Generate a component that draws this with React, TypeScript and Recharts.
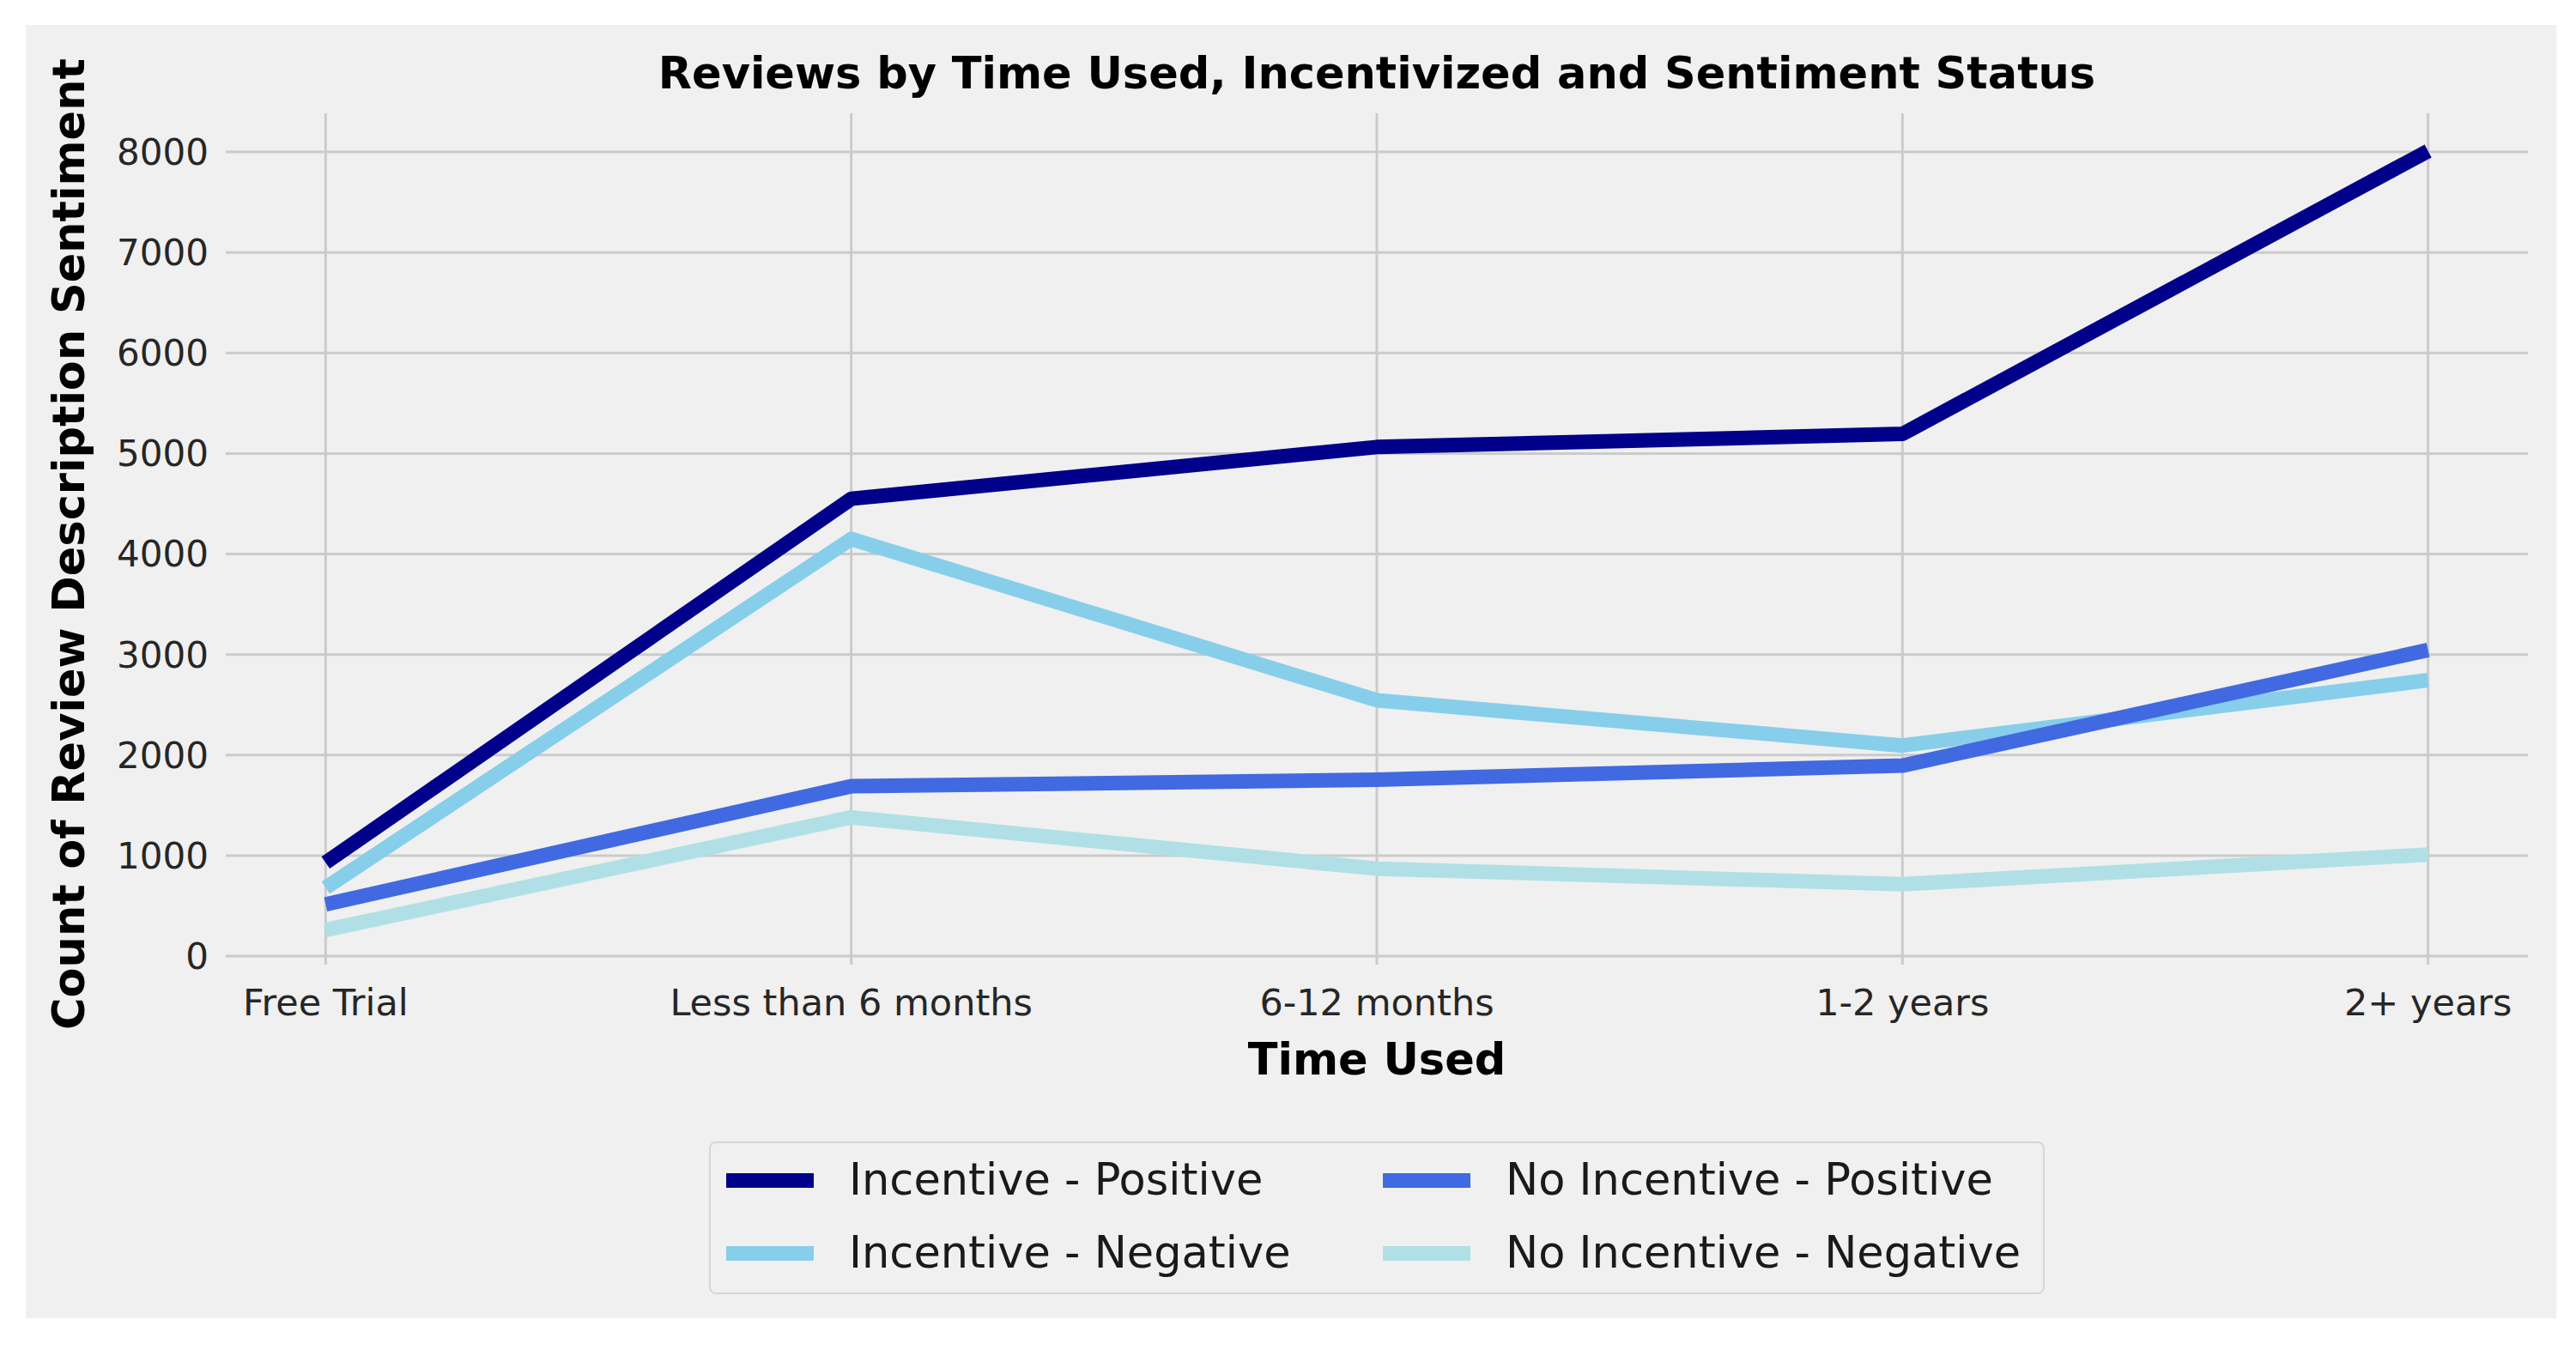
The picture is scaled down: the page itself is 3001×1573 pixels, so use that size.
import { LineChart, Line, XAxis, YAxis, CartesianGrid } from 'recharts'

const categories = ['Free Trial', 'Less than 6 months', '6-12 months', '1-2 years', '2+ years']
const incentivePositive = [930, 4550, 5065, 5195, 8010]
const incentiveNegative = [680, 4150, 2545, 2095, 2745]
const noIncentivePositive = [515, 1690, 1755, 1895, 3045]
const noIncentiveNegative = [260, 1380, 870, 715, 1010]
const xTicks = [0, 1, 2, 3, 4]
const yTicks = [0, 1000, 2000, 3000, 4000, 5000, 6000, 7000, 8000]

const series = [
  { key: 'ip', name: 'Incentive - Positive', color: '#00008B', values: incentivePositive },
  { key: 'in', name: 'Incentive - Negative', color: '#87CEEB', values: incentiveNegative },
  { key: 'np', name: 'No Incentive - Positive', color: '#4169E1', values: noIncentivePositive },
  { key: 'nn', name: 'No Incentive - Negative', color: '#B0E0E6', values: noIncentiveNegative },
]

const data = categories.map((c, i) => {
  const row: Record<string, number | string> = { x: i, label: c }
  series.forEach((s) => { row[s.key] = s.values[i] })
  return row
})

const FONT = '"DejaVu Sans", sans-serif'
const W = 3001
const H = 1573
const plot = { left: 263, top: 132, right: 2945, bottom: 1124 }

const legendCols = [846, 1611]
const legendRows = [1375, 1460]

export default function App() {
  const yAxisWidth = 200
  const xAxisHeight = 60
  return (
    <div style={{ position: 'absolute', left: 0, top: 0, width: W, height: H, background: '#ffffff', fontFamily: FONT, overflow: 'hidden' }}>
      <div style={{ position: 'absolute', left: 30, top: 29, width: 2948, height: 1507, background: '#f0f0f0' }} />

      <div style={{ position: 'absolute', left: 0, top: 0 }}>
        <LineChart
          width={W}
          height={H}
          data={data}
          margin={{ top: plot.top, right: W - plot.right, bottom: H - plot.bottom - xAxisHeight, left: plot.left - yAxisWidth }}
        >
          {/* syncWithTicks keeps the grid off the plot edges */}
          <CartesianGrid stroke="#cbcbcb" strokeWidth={3} syncWithTicks />
          <XAxis
            type="number"
            dataKey="x"
            domain={[-0.19, 4.19]}
            allowDataOverflow
            ticks={xTicks}
            tickFormatter={(v: number) => categories[v] ?? ''}
            height={xAxisHeight}
            axisLine={false}
            tickLine={false}
            tickSize={0}
            tickMargin={28}
            interval={0}
            tick={{ fill: '#262626', fontSize: 43, fontFamily: FONT }}
          />
          <YAxis
            type="number"
            domain={[-85, 8385]}
            allowDataOverflow
            ticks={yTicks}
            width={yAxisWidth}
            axisLine={false}
            tickLine={false}
            tickSize={0}
            tickMargin={20}
            interval={0}
            tick={{ fill: '#262626', fontSize: 42, fontFamily: FONT }}
          />
          {series.map((s) => (
            <Line
              key={s.key}
              type="linear"
              dataKey={s.key}
              name={s.name}
              stroke={s.color}
              strokeWidth={17}
              strokeLinecap="butt"
              strokeLinejoin="round"
              dot={false}
              activeDot={false}
              isAnimationActive={false}
            />
          ))}
        </LineChart>
      </div>

      <div style={{ position: 'absolute', left: plot.left, width: plot.right - plot.left, top: 60, textAlign: 'center', fontSize: 51, lineHeight: '51px', fontWeight: 'bold', color: '#000', whiteSpace: 'nowrap' }}>
        Reviews by Time Used, Incentivized and Sentiment Status
      </div>

      <div style={{ position: 'absolute', left: plot.left, width: plot.right - plot.left, top: 1209, textAlign: 'center', fontSize: 51, lineHeight: '51px', fontWeight: 'bold', color: '#000', whiteSpace: 'nowrap' }}>
        Time Used
      </div>

      <div style={{ position: 'absolute', left: 80, top: 634, transform: 'translate(-50%, -50%) rotate(-90deg)', fontSize: 51, lineHeight: '51px', fontWeight: 'bold', color: '#000', whiteSpace: 'nowrap' }}>
        Count of Review Description Sentiment
      </div>

      <div style={{ position: 'absolute', left: 826, top: 1330, width: 1556, height: 178, boxSizing: 'border-box', border: '2px solid #d6d6d6', borderRadius: 8, background: '#f0f0f0' }} />
      {series.map((s, i) => {
        const cx = legendCols[Math.floor(i / 2)]
        const cy = legendRows[i % 2]
        return (
          <div key={s.key}>
            <div style={{ position: 'absolute', left: cx, top: cy - 8, width: 102, height: 17, background: s.color }} />
            <div style={{ position: 'absolute', left: cx + 143, top: cy - 26, fontSize: 51, lineHeight: '51px', color: '#1a1a1a', whiteSpace: 'nowrap' }}>
              {s.name}
            </div>
          </div>
        )
      })}
    </div>
  )
}
